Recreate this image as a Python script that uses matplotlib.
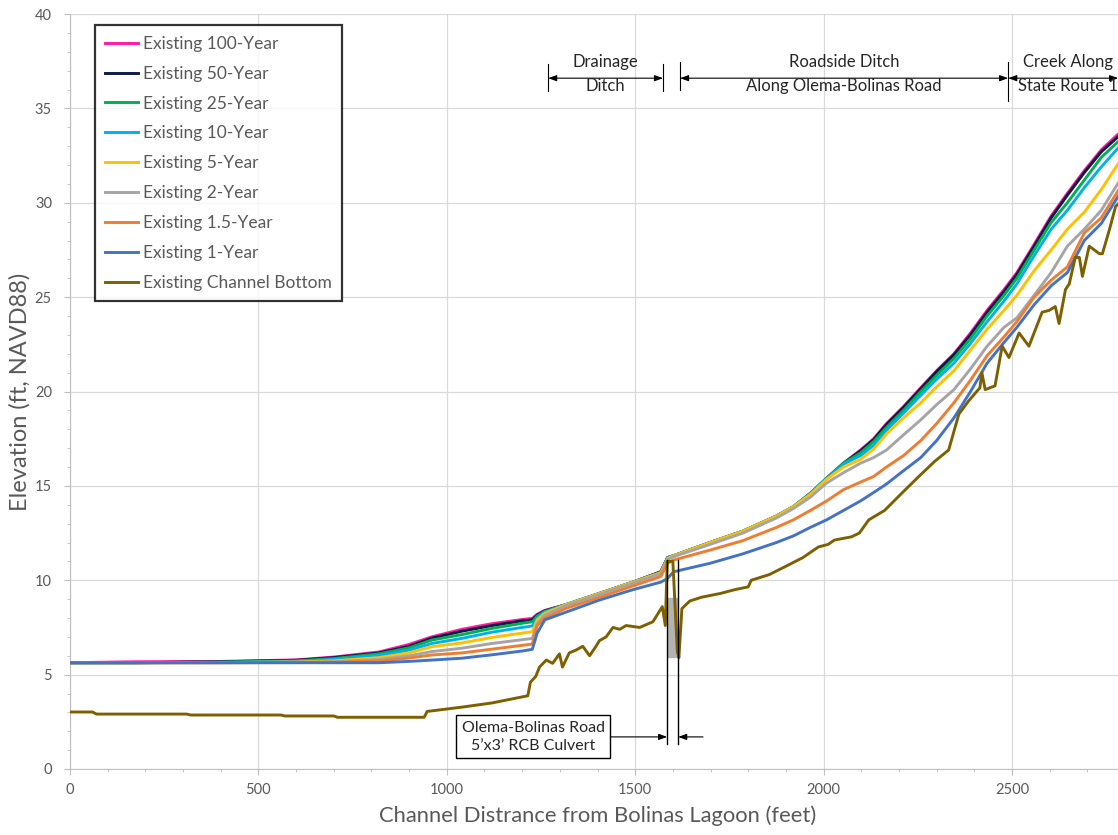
import matplotlib.pyplot as plt
from matplotlib.patches import Rectangle
from matplotlib.ticker import MultipleLocator

plt.rcParams['font.family'] = ['Lato', 'DejaVu Sans']

# water surface profile stations (ft from Bolinas Lagoon)
station = [0, 170, 400, 600, 700, 820, 900, 960, 1040, 1120, 1200, 1227, 1240, 1260, 1315,
           1405, 1494, 1568, 1586, 1602, 1699, 1786, 1875, 1920, 1965, 2008, 2053, 2098,
           2133, 2167, 2212, 2258, 2300, 2346, 2390, 2434, 2479, 2513, 2559, 2604, 2647,
           2692, 2737, 2793]

wse_100 = [5.63, 5.68, 5.70, 5.78, 5.93, 6.20, 6.60, 7.00, 7.40, 7.70, 7.92, 7.98, 8.20, 8.40, 8.70,
           9.30, 9.90, 10.45, 11.20, 11.30, 12.00, 12.60, 13.40, 13.90, 14.60, 15.40, 16.20, 16.90,
           17.50, 18.30, 19.20, 20.20, 21.10, 22.00, 23.10, 24.30, 25.40, 26.30, 27.80, 29.30, 30.50,
           31.70, 32.80, 33.85]
wse_50 = [5.63, 5.63, 5.68, 5.76, 5.90, 6.15, 6.50, 6.93, 7.30, 7.60, 7.85, 7.90, 8.15, 8.38, 8.70,
          9.30, 9.90, 10.45, 11.20, 11.30, 12.00, 12.60, 13.40, 13.90, 14.60, 15.40, 16.20, 16.85,
          17.45, 18.25, 19.15, 20.15, 21.05, 21.95, 23.00, 24.20, 25.30, 26.20, 27.70, 29.20, 30.40,
          31.60, 32.70, 33.70]
wse_25 = [5.63, 5.63, 5.66, 5.73, 5.85, 6.10, 6.42, 6.83, 7.12, 7.45, 7.72, 7.80, 8.10, 8.35, 8.70,
          9.30, 9.90, 10.42, 11.20, 11.30, 12.00, 12.60, 13.40, 13.90, 14.60, 15.40, 16.20, 16.75,
          17.35, 18.10, 19.00, 20.00, 20.85, 21.75, 22.80, 24.00, 25.10, 26.00, 27.50, 28.95, 30.00,
          31.20, 32.40, 33.45]
wse_10 = [5.63, 5.63, 5.65, 5.70, 5.80, 6.02, 6.30, 6.65, 6.92, 7.25, 7.50, 7.58, 8.00, 8.30, 8.70,
          9.30, 9.90, 10.40, 11.20, 11.30, 12.00, 12.60, 13.40, 13.90, 14.60, 15.40, 16.15, 16.60,
          17.15, 17.95, 18.85, 19.80, 20.65, 21.50, 22.55, 23.70, 24.80, 25.70, 27.20, 28.60, 29.60,
          30.80, 31.90, 33.15]
wse_5 = [5.63, 5.63, 5.64, 5.67, 5.73, 5.90, 6.15, 6.48, 6.68, 6.97, 7.20, 7.27, 7.90, 8.25, 8.70,
         9.30, 9.90, 10.40, 11.15, 11.30, 12.00, 12.60, 13.40, 13.90, 14.55, 15.35, 16.00, 16.40,
         16.95, 17.75, 18.60, 19.40, 20.25, 21.10, 22.20, 23.30, 24.30, 25.10, 26.40, 27.50, 28.60,
         29.50, 30.70, 32.40]
wse_2 = [5.63, 5.63, 5.63, 5.65, 5.68, 5.80, 6.00, 6.22, 6.40, 6.65, 6.85, 6.92, 7.70, 8.15, 8.65,
         9.25, 9.85, 10.35, 11.10, 11.25, 11.90, 12.50, 13.30, 13.80, 14.40, 15.15, 15.70, 16.20,
         16.50, 16.90, 17.70, 18.50, 19.30, 20.10, 21.20, 22.40, 23.40, 23.90, 25.10, 26.30, 27.70,
         28.60, 29.60, 31.40]
wse_1_5 = [5.63, 5.63, 5.63, 5.64, 5.66, 5.72, 5.88, 6.04, 6.15, 6.35, 6.55, 6.62, 7.60, 8.00, 8.50,
           9.10, 9.70, 10.20, 10.90, 11.07, 11.60, 12.10, 12.80, 13.20, 13.70, 14.20, 14.80, 15.20,
           15.50, 16.00, 16.60, 17.40, 18.30, 19.40, 20.60, 21.90, 22.90, 23.70, 25.00, 25.90, 26.60,
           28.40, 29.20, 31.00]
wse_1 = [5.63, 5.63, 5.63, 5.63, 5.63, 5.63, 5.70, 5.77, 5.87, 6.05, 6.25, 6.34, 7.20, 7.90, 8.30,
         8.95, 9.50, 9.90, 10.10, 10.45, 10.90, 11.40, 12.00, 12.35, 12.80, 13.20, 13.70, 14.20,
         14.65, 15.10, 15.80, 16.50, 17.40, 18.60, 20.00, 21.50, 22.60, 23.40, 24.60, 25.60, 26.30,
         28.00, 28.90, 30.70]

# channel bottom profile
bed_x = [0, 60, 70, 310, 320, 560, 570, 700, 710, 940,
         948, 1041, 1120, 1215, 1222, 1236, 1246, 1264, 1281, 1299,
         1307, 1325, 1343, 1361, 1379, 1396, 1405, 1423, 1441, 1459,
         1476, 1512, 1547, 1572, 1580, 1585, 1600, 1612, 1616, 1624,
         1645, 1676, 1726, 1764, 1800, 1808, 1856, 1896, 1945, 1986,
         2012, 2029, 2074, 2095, 2120, 2162, 2207, 2253, 2295, 2332,
         2359, 2385, 2415, 2420, 2429, 2455, 2474, 2492, 2519, 2545,
         2580, 2599, 2615, 2625, 2642, 2652, 2668, 2679, 2687, 2705,
         2732, 2740, 2759, 2775, 2790]
bed_y = [3.02, 3.02, 2.91, 2.91, 2.86, 2.86, 2.81, 2.81, 2.74, 2.74,
         3.05, 3.28, 3.50, 3.88, 4.60, 4.90, 5.40, 5.77, 5.60, 6.10,
         5.40, 6.15, 6.30, 6.50, 6.00, 6.50, 6.80, 7.00, 7.50, 7.40,
         7.60, 7.50, 7.80, 8.60, 7.60, 11.00, 11.00, 6.20, 5.90, 8.50,
         8.90, 9.10, 9.30, 9.50, 9.65, 10.00, 10.30, 10.70, 11.20, 11.76,
         11.90, 12.13, 12.30, 12.50, 13.20, 13.70, 14.60, 15.50, 16.30, 16.90,
         18.80, 19.50, 20.20, 21.00, 20.10, 20.30, 22.40, 21.80, 23.10, 22.40,
         24.20, 24.30, 24.50, 23.60, 25.40, 25.70, 27.10, 27.10, 26.10, 27.70,
         27.30, 27.30, 28.60, 29.80, 30.10]

labels = ["Existing 100-Year", "Existing 50-Year", "Existing 25-Year", "Existing 10-Year",
          "Existing 5-Year", "Existing 2-Year", "Existing 1.5-Year", "Existing 1-Year"]
colors = ["#ff1aa3", "#0c1a45", "#00b050", "#00b0f0", "#ffc000", "#a5a5a5", "#ed7d31", "#4472c4"]
bed_color = "#7f6000"

# reach limits along the top
drainage = (1269, 1574)
roadside = (1619, 2490)
creek = (2490, 2782)
culvert = (1585, 1614)


def main():
    fig = plt.figure(figsize=(11.18, 8.35), dpi=100)
    ax = fig.add_axes([70 / 1118, 66 / 835, 1055 / 1118, 755 / 835])

    grey = "#595959"
    ax.set_xlim(0, 2800)
    ax.set_ylim(0, 40)
    ax.xaxis.set_major_locator(MultipleLocator(500))
    ax.xaxis.set_minor_locator(MultipleLocator(100))
    ax.yaxis.set_major_locator(MultipleLocator(5))
    ax.yaxis.set_minor_locator(MultipleLocator(1))
    ax.grid(True, which='major', color="#d9d9d9", lw=0.9, zorder=0)
    ax.set_axisbelow(True)
    for s in ['top', 'right']:
        ax.spines[s].set_visible(False)
    for s in ['left', 'bottom']:
        ax.spines[s].set_color("#bfbfbf")
    ax.tick_params(which='major', length=4, color="#bfbfbf", labelcolor=grey,
                   labelsize=10.5)
    ax.tick_params(axis='x', pad=6)
    ax.tick_params(axis='y', pad=9)
    ax.tick_params(which='minor', length=2.5, color="#bfbfbf")

    # culvert shading
    ax.add_patch(Rectangle((1588, 5.95), 23, 3.1, color="#b3b3b3", zorder=2))

    series = [wse_100, wse_50, wse_25, wse_10, wse_5, wse_2, wse_1_5, wse_1]
    for y, lab, c in zip(series, labels, colors):
        ax.plot(station, y, color=c, lw=2.1, label=lab, zorder=3)
    ax.plot(bed_x, bed_y, color=bed_color, lw=2.1, label="Existing Channel Bottom", zorder=3)

    ax.set_xlabel("Channel Distrance from Bolinas Lagoon (feet)", fontsize=15.8, color=grey,
                  labelpad=6)
    ax.set_ylabel("Elevation (ft, NAVD88)", fontsize=17, color=grey, labelpad=3)

    leg = ax.legend(loc='upper left', bbox_to_anchor=(0.0237, 0.985), borderaxespad=0,
                    fancybox=False, edgecolor='black', fontsize=12.5, labelspacing=0.8,
                    handlelength=1.9, handletextpad=0.25, borderpad=0.6, labelcolor=grey)
    leg.get_frame().set_linewidth(1.6)

    ### reach annotations
    arrow = dict(arrowstyle='<|-|>,head_length=0.5,head_width=0.18', color='black', lw=0.8,
                 shrinkA=0, shrinkB=0)
    for a, b in [drainage, roadside, creek]:
        ax.annotate('', xy=(b, 36.6), xytext=(a, 36.6), arrowprops=arrow, annotation_clip=False)
    for x, y0, y1 in [(drainage[0], 35.9, 37.35), (drainage[1], 35.9, 37.35),
                      (roadside[0], 36.0, 37.45), (roadside[1], 35.4, 37.45)]:
        ax.plot([x, x], [y0, y1], color='black', lw=0.8)
    txt = dict(ha='center', va='center', fontsize=12, color='#262626')
    ax.text(sum(drainage) / 2, 37.45, "Drainage", **txt)
    ax.text(sum(drainage) / 2, 36.2, "Ditch", **txt)
    ax.text(sum(roadside) / 2, 37.45, "Roadside Ditch", **txt)
    ax.text(sum(roadside) / 2, 36.2, "Along Olema-Bolinas Road", **txt)
    ax.text(2648, 37.45, "Creek Along", **txt)
    ax.text(2648, 36.2, "State Route 1", **txt)

    ### culvert callout
    for x in culvert:
        ax.plot([x, x], [1.35, 11.05], color='black', lw=1, zorder=4)
    ax.text(1229, 1.7, "Olema-Bolinas Road\n5\u2019x3\u2019 RCB Culvert", ha='center', va='center',
            fontsize=11.5, color='#262626', linespacing=1.35,
            bbox=dict(boxstyle='square,pad=0.35', fc='white', ec='black', lw=1))
    one = dict(arrowstyle='-|>,head_length=0.5,head_width=0.18', color='black', lw=0.8,
               shrinkA=0, shrinkB=0)
    ax.annotate('', xy=(culvert[0], 1.7), xytext=(1434, 1.7), arrowprops=one)
    ax.annotate('', xy=(culvert[1], 1.7), xytext=(1680, 1.7), arrowprops=one)

    fig.savefig("out.png", dpi=100)


if __name__ == "__main__":
    main()
